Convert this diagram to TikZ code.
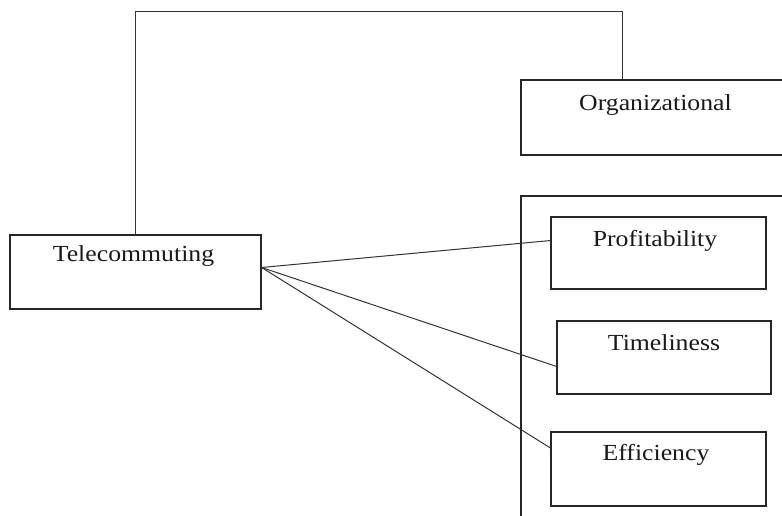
\documentclass[tikz,border=0pt]{standalone}
\usepackage{fontspec}
\setmainfont[FakeStretch=1.12]{Liberation Serif}
\usetikzlibrary{calc}
\begin{document}
\begin{tikzpicture}[x=1pt,y=1pt,
  box/.style={draw=black!85, line width=1.3pt, rectangle, inner sep=0pt},
  lbl/.style={inner sep=0pt, anchor=base, text=black!90, font=\fontsize{23}{27}\selectfont},
  conn/.style={draw=black!80, line width=1pt}]
\useasboundingbox (0,0) rectangle (782,-515);
\clip (0,0) rectangle (782,-515);
% outer container (open to right and bottom)
\draw[line width=1.3pt, black!85] (800,-196) -- (521,-196) -- (521,-530);
% boxes
\node[box, minimum width=251pt, minimum height=74pt] (tele) at (135.5,-272) {};
\node[box, minimum width=272pt, minimum height=75pt] (org) at (657,-117.5) {};
\node[box, minimum width=215pt, minimum height=72pt] (prof) at (658.5,-253) {};
\node[box, minimum width=214pt, minimum height=73pt] (time) at (664,-357.5) {};
\node[box, minimum width=215pt, minimum height=74pt] (eff) at (658.5,-469) {};
% labels
\node[lbl] (teleT) at ($(tele.north)+(-2,-26.7)$) {Telecommuting};
\node[lbl] (orgT) at ($(org.north)+(-1.5,-31.5)$) {Organizational};
\node[lbl] (profT) at ($(prof.north)+(-3.5,-30)$) {Profitability};
\node[lbl] (timeT) at ($(time.north)+(0,-29.7)$) {Timeliness};
\node[lbl] (effT) at ($(eff.north)+(-2.5,-28.7)$) {Efficiency};
% connectors
\coordinate (hub) at ($(tele.north east)!0.44!(tele.south east)$);
\coordinate (orgtop) at ($(org.north west)!0.373!(org.north east)$);
\draw[conn] (tele.north) -- (tele.north |- 0,-11) -| (orgtop);
\draw[conn] (hub) -- ($(prof.north west)!0.33!(prof.south west)$);
\draw[conn] (hub) -- ($(time.north west)!0.62!(time.south west)$);
\draw[conn] (hub) -- ($(eff.north west)!0.22!(eff.south west)$);
\end{tikzpicture}
\end{document}
